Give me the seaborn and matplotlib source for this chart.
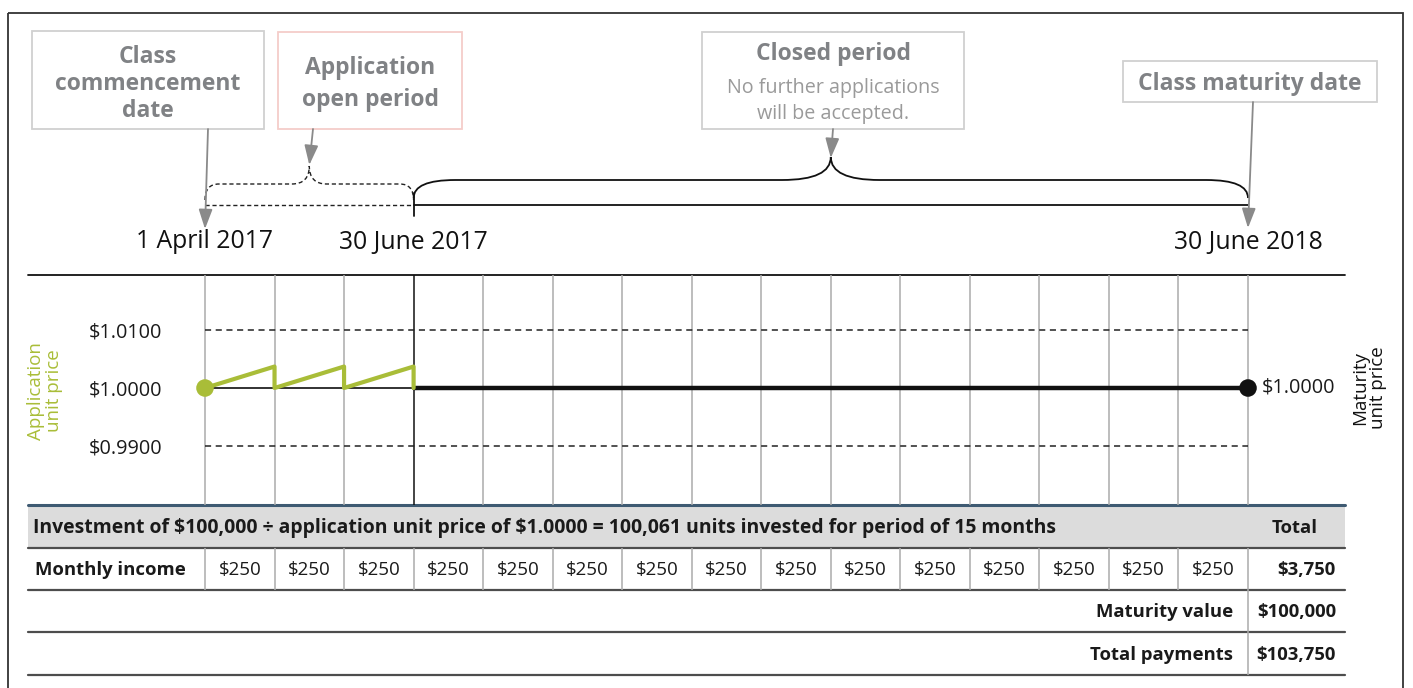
import matplotlib
matplotlib.use('Agg')
import matplotlib.pyplot as plt
from matplotlib.patches import Rectangle, PathPatch
from matplotlib.path import Path
from matplotlib.transforms import blended_transform_factory
import seaborn as sns

# ---- data ----
months = list(range(16))
date_labels = ['1 April 2017', '30 June 2017', '30 June 2018']
date_months = [0, 3, 15]
open_months = 3
term_months = 15

app_x = [0, 1, 1, 2, 2, 3, 3]
app_price = [1.0000, 1.0037, 1.0000, 1.0037, 1.0000, 1.0037, 1.0000]
maturity_x = [3, 15]
maturity_price = [1.0000, 1.0000]
price_ticks = [0.99, 1.00, 1.01]
price_labels = ['$0.9900', '$1.0000', '$1.0100']

investment = 100000
units = 100061
monthly_income = [250, 250, 250, 250, 250, 250, 250, 250, 250, 250, 250, 250, 250, 250, 250]
total_income = 3750
maturity_value = 100000
total_payments = 103750

GREEN = '#a9bd38'
GREY_TXT = '#808285'
GREY_ARROW = '#8a8a8a'

sns.set_theme(style='white')
plt.rcParams['font.family'] = ['Open Sans', 'DejaVu Sans']
plt.rcParams['text.parse_math'] = False  # lots of dollar signs

W, H = 1413, 688
fig = plt.figure(figsize=(W / 100, H / 100), dpi=100)
base = fig.add_axes([0, 0, 1, 1])
base.set_xlim(0, W)
base.set_ylim(H, 0)
base.axis('off')
base.set_autoscale_on(False)


def frac(x0, y0, x1, y1):
    return [x0 / W, 1 - y1 / H, (x1 - x0) / W, (y1 - y0) / H]


# chart axes: months on x, price on y
ax = fig.add_axes(frac(28, 275, 1345, 505))
m0_px, m15_px = 205, 1248
ppm = (m15_px - m0_px) / 15
ppu = 5800
xlim = ((28 - m0_px) / ppm, (1345 - m0_px) / ppm)
ylim = (1 - (505 - 388) / ppu, 1 + (388 - 275) / ppu)

# months on x, pixels on y (for timeline + table)
T = blended_transform_factory(ax.transData, base.transData)

# outer frame
base.add_patch(Rectangle((8, 13), 1395, 700, fill=False, ec='#333333', lw=1.3, clip_on=False))

# ---- top callout boxes ----
def box(x0, y0, x1, y1, ec):
    base.add_patch(Rectangle((x0, y0), x1 - x0, y1 - y0, fill=False, ec=ec, lw=1.3))

box(32, 31, 264, 129, '#d0d0d0')
box(278, 32, 462, 129, '#f5cdc9')
box(702, 32, 964, 129, '#d0d0d0')
box(1123, 61, 1377, 102, '#d0d0d0')

bold_box = dict(ha='center', va='center', color=GREY_TXT, fontsize=16.5, fontweight='bold')
for txt, y in [('Class', 57), ('commencement', 84), ('date', 111)]:
    base.text(148, y, txt, **bold_box)
for txt, y in [('Application', 68), ('open period', 100)]:
    base.text(370, y, txt, **bold_box)
base.text(833, 54, 'Closed period', **bold_box)
for txt, y in [('No further applications', 88), ('will be accepted.', 114)]:
    base.text(833, y, txt, ha='center', va='center', color='#9a9a9a', fontsize=14.2)
base.text(1250, 84, 'Class maturity date', **bold_box)

# ---- timeline ----
def brace(xa, xb, y_end, y_top, y_peak, r_end, r_mid, **kw):
    xm = (xa + xb) / 2
    verts = [(xa, y_end), (xa, y_top), (xa + r_end, y_top), (xm - r_mid, y_top),
             (xm, y_top), (xm, y_peak), (xm, y_top), (xm + r_mid, y_top),
             (xb - r_end, y_top), (xb, y_top), (xb, y_end)]
    codes = [Path.MOVETO, Path.CURVE3, Path.CURVE3, Path.LINETO, Path.CURVE3, Path.CURVE3,
             Path.CURVE3, Path.CURVE3, Path.LINETO, Path.CURVE3, Path.CURVE3]
    base.add_patch(PathPatch(Path(verts, codes), fill=False, transform=T, **kw))

dash = (0, (3, 2))
base.plot([0, open_months], [205, 205], color='#222222', lw=1, ls=dash, transform=T)
base.plot([open_months, term_months], [205, 205], color='#111111', lw=1.3, transform=T)
base.plot([open_months, open_months], [193, 216], color='#111111', lw=1.3, transform=T)
brace(0, open_months, 200, 184, 166, 0.2, 0.25, ec='#222222', lw=1, ls=dash)
brace(open_months, term_months, 198, 180, 157, 0.6, 0.7, ec='#111111', lw=1.3)

for lab, m in zip(date_labels, date_months):
    base.text(m, 242, lab, transform=T, ha='center', va='center', fontsize=17.8, color='#111111')

arrow = dict(arrowstyle='-|>,head_length=1.0,head_width=0.35', color=GREY_ARROW, lw=1.3,
             shrinkA=0, shrinkB=0)
base.annotate('', xy=(0, 229), xycoords=T, xytext=(208, 129), textcoords='data', arrowprops=arrow)
base.annotate('', xy=(open_months / 2, 165), xycoords=T, xytext=(313, 129), textcoords='data', arrowprops=arrow)
base.annotate('', xy=((open_months + term_months) / 2, 158), xycoords=T, xytext=(833, 129),
              textcoords='data', arrowprops=arrow)
base.annotate('', xy=(term_months, 228), xycoords=T, xytext=(1253, 102), textcoords='data', arrowprops=arrow)

# ---- price chart ----
ax.vlines(months, ylim[0], ylim[1], colors=['#111111' if m == open_months else '#ababab' for m in months],
          lw=1.1, zorder=1)
ax.hlines([price_ticks[0], price_ticks[2]], 0, term_months, colors='#222222', linestyles=(0, (4, 3)), lw=1.1)
sns.lineplot(x=[0, open_months], y=[price_ticks[1], price_ticks[1]], color='#222222', lw=1.3, ax=ax)
sns.lineplot(x=maturity_x, y=maturity_price, color='#111111', lw=3.2, ax=ax)
sns.lineplot(x=app_x, y=app_price, sort=False, estimator=None, color=GREEN, lw=3, ax=ax)
sns.scatterplot(x=[0], y=[app_price[0]], color=GREEN, s=160, edgecolor='none', ax=ax, zorder=5)
sns.scatterplot(x=[term_months], y=[maturity_price[-1]], color='#111111', s=160, edgecolor='none', ax=ax, zorder=5)

ax.set_xlim(*xlim)
ax.set_ylim(*ylim)
ax.set_xlabel('')
ax.set_ylabel('')
ax.set_xticks([])
ax.set_yticks(price_ticks, price_labels)
ax.tick_params(axis='y', length=0, pad=-(162 - 28) * 0.72, labelsize=14.3, labelcolor='#1a1a1a')
for s in ax.spines.values():
    s.set_visible(False)
ax.patch.set_visible(False)
ax.annotate(price_labels[1], xy=(term_months, maturity_price[-1]), xytext=(10, 0),
            textcoords='offset points', ha='left', va='center', fontsize=14.3, color='#1a1a1a')

base.text(45, 391, 'Application\nunit price', rotation=90, ha='center', va='center',
          color=GREEN, fontsize=13.5, linespacing=0.95)
base.text(1369, 388, 'Maturity\nunit price', rotation=90, ha='center', va='center',
          color='#111111', fontsize=13.5, linespacing=0.95)

base.plot([28, 1345], [275, 275], color='#111111', lw=1.3)

# ---- table ----
base.add_patch(Rectangle((28, 506), 1317, 41, fc='#dcdcdc', ec='none'))
base.plot([28, 1345], [505, 505], color='#3e5a72', lw=2.2)
for y in [548, 590, 632, 675]:
    base.plot([28, 1345], [y, y], color='#4d4d4d', lw=1.6)
base.vlines(months, 548, 590, colors='#ababab', lw=1.1, transform=T)
base.vlines([term_months], 590, 675, colors='#ababab', lw=1.1, transform=T)

tb = dict(fontsize=13.3, fontweight='bold', color='#1a1a1a', va='center')
base.text(33, 528, f'Investment of ${investment:,} \u00f7 application unit price of ${app_price[0]:.4f} = '
          f'{units:,} units invested for period of {term_months} months', ha='left',
          **{**tb, 'fontsize': 13.95})
base.text(1295, 528, 'Total', ha='center', **tb)
base.text(35, 570, 'Monthly income', ha='left', **tb)
for i, v in enumerate(monthly_income):
    base.text(i + 0.5, 570, f'${v}', transform=T, ha='center', va='center', fontsize=13.5, color='#1a1a1a')
base.text(1336, 570, f'${total_income:,}', ha='right', **tb)
base.text(1233, 612, 'Maturity value', ha='right', **tb)
base.text(1336, 612, f'${maturity_value:,}', ha='right', **tb)
base.text(1233, 655, 'Total payments', ha='right', **tb)
base.text(1336, 655, f'${total_payments:,}', ha='right', **tb)

fig.savefig('out.png', dpi=100)
